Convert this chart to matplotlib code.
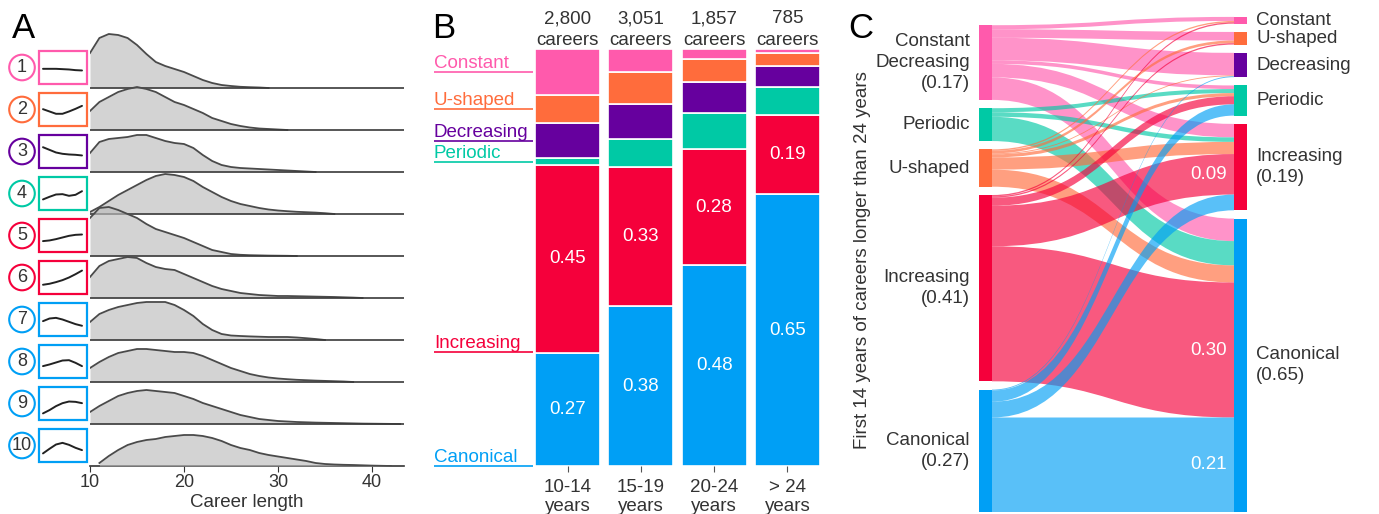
import numpy as np
import matplotlib
matplotlib.use('Agg')
import matplotlib.pyplot as plt
from matplotlib.path import Path
from matplotlib.patches import PathPatch, Rectangle, Circle

plt.rcParams['font.family'] = ['Liberation Sans', 'DejaVu Sans']

W, H = 1379, 514

col = {'Constant': '#ff5aac', 'U-shaped': '#ff6c3c', 'Decreasing': '#66009e',
       'Periodic': '#00c9a5', 'Increasing': '#f5003b', 'Canonical': '#009ff5'}
txt_col = '#333333'

# ---- panel A data: career-length densities per cluster
cluster_class = ['Constant', 'U-shaped', 'Decreasing', 'Periodic', 'Increasing',
                 'Increasing', 'Canonical', 'Canonical', 'Canonical', 'Canonical']
# mini trajectory glyph in each box (0 = box bottom, 1 = box top)
shape_y = [
    [0.46, 0.46, 0.46, 0.45, 0.44, 0.42, 0.41],
    [0.51, 0.44, 0.37, 0.37, 0.44, 0.52, 0.61],
    [0.63, 0.55, 0.47, 0.43, 0.41, 0.40, 0.38],
    [0.32, 0.40, 0.47, 0.48, 0.43, 0.46, 0.57],
    [0.33, 0.35, 0.39, 0.44, 0.49, 0.52, 0.53],
    [0.28, 0.31, 0.36, 0.42, 0.50, 0.60, 0.71],
    [0.45, 0.53, 0.55, 0.50, 0.43, 0.36, 0.31],
    [0.36, 0.41, 0.47, 0.53, 0.54, 0.46, 0.36],
    [0.20, 0.30, 0.42, 0.51, 0.56, 0.55, 0.51],
    [0.26, 0.40, 0.53, 0.58, 0.52, 0.43, 0.36],
]
dens_start = [10, 10, 10, 10, 10, 10, 10, 10, 10, 11]
dens = [
    [35, 50, 54, 53, 50, 43, 34, 26, 22, 19, 16, 12, 8, 5, 3, 2, 1.2, 0.8, 0.5, 0],
    [19, 28, 33, 38, 41, 43, 41, 38, 33, 28, 25, 21, 17, 12, 9, 6, 4, 2.5, 1.5, 1, 0.5, 0],
    [19, 30, 33, 34, 35, 37, 37, 34, 31, 29, 28, 24, 17, 11, 7, 5, 4, 3.5, 3, 2.5, 2, 1.5, 1, 0.5, 0],
    [2, 7, 13, 19, 24, 29, 34, 38, 40, 39, 37, 33, 27, 22, 17, 13, 10, 8, 6, 4.5, 3.5, 2.8, 2.2,
     1.8, 1.4, 0.8, 0],
    [38, 48, 49, 46, 42, 38, 32, 27, 24, 21, 18, 14, 10, 6, 4, 2, 1.2, 0.8, 0.6, 0.4, 0.3, 0.2, 0],
    [21, 32, 37, 39, 41, 40, 35, 31, 29, 28, 24, 20, 16, 12, 9, 7, 5, 4, 3, 2.5, 2, 2, 1.8, 1.6,
     1.4, 1.2, 1, 0.7, 0.4, 0],
    [18, 26, 30, 33, 35, 37, 38, 38, 38, 35, 30, 24, 16, 10, 6, 4.5, 4, 3.6, 3.3, 3, 3, 3, 2.5,
     1.8, 1, 0],
    [14, 20, 25, 29, 31, 33, 33, 32, 31, 30, 30, 29, 26, 22, 18, 14, 11, 8, 6, 4.5, 3.5, 2.8, 2.2,
     1.8, 1.4, 1.1, 0.8, 0.5, 0],
    [12, 18, 23, 28, 31, 33, 34, 33, 32, 31, 28, 25, 21, 18, 15, 12, 9, 7, 5, 4, 3, 2.5, 2, 1.7,
     1.4, 1.2, 1, 0.8, 0.6, 0.4, 0.3, 0.2, 0.1, 0],
    [3, 10, 16, 21, 24, 26, 27, 29, 30, 31, 31, 30, 28, 25, 21, 18, 16, 13, 11, 9.5, 8, 6.5, 5, 3,
     2, 1.5, 1.2, 1, 0.7, 0.4, 0.2, 0],
]

# ---- panel B data
groups = ['10-14\nyears', '15-19\nyears', '20-24\nyears', '> 24\nyears']
n_careers = [2800, 3051, 1857, 785]
classes_b = ['Canonical', 'Increasing', 'Periodic', 'Decreasing', 'U-shaped', 'Constant']
share = {
    'Canonical':  [0.272, 0.383, 0.481, 0.652],
    'Increasing': [0.449, 0.334, 0.279, 0.189],
    'Periodic':   [0.018, 0.068, 0.087, 0.069],
    'Decreasing': [0.083, 0.083, 0.075, 0.050],
    'U-shaped':   [0.067, 0.076, 0.053, 0.030],
    'Constant':   [0.111, 0.056, 0.025, 0.010],
}
labelled_b = ['Canonical', 'Increasing']

# ---- panel C data: first 14 years -> full career (careers > 24 years)
src_names = ['Constant', 'Periodic', 'U-shaped', 'Increasing', 'Canonical']
dst_names = ['Constant', 'U-shaped', 'Decreasing', 'Periodic', 'Increasing', 'Canonical']
flow = np.array([
    [0.009, 0.019, 0.050, 0.008, 0.030, 0.050],
    [0.000, 0.000, 0.000, 0.009, 0.010, 0.054],
    [0.003, 0.006, 0.002, 0.007, 0.027, 0.038],
    [0.003, 0.003, 0.000, 0.018, 0.090, 0.300],
    [0.000, 0.000, 0.002, 0.025, 0.035, 0.210],
])
src_labels = ['Constant\nDecreasing\n(0.17)', 'Periodic', 'U-shaped',
              'Increasing\n(0.41)', 'Canonical\n(0.27)']

fig = plt.figure(figsize=(W / 100, H / 100), dpi=100)

# =================== A
row_px = 42.0
axA = fig.add_axes([90 / W, (H - 466) / H, 314 / W, 446 / H])
axA.set_xlim(10, 10 + 314 / 9.4)
axA.set_ylim(0, 446 / row_px)
for i in range(10):
    base = 9 - i
    x = np.arange(dens_start[i], dens_start[i] + len(dens[i]))
    y = base + np.array(dens[i]) / row_px
    z = 2 + i * 3
    axA.fill_between(x, base, y, color='#bcbcbc', alpha=0.65, lw=0, zorder=z)
    axA.plot(x, y, color='#4a4a4a', lw=1.3, zorder=z + 1)
    if base > 0:
        axA.axhline(base, color='#3a3a3a', lw=1.2, zorder=z + 2)
for s in ['top', 'left', 'right']:
    axA.spines[s].set_visible(False)
axA.spines['bottom'].set_color('#333333')
axA.spines['bottom'].set_linewidth(1.2)
axA.set_yticks([])
axA.set_xticks([10, 20, 30, 40])
axA.tick_params(axis='x', length=4, color='#333333', labelsize=13, labelcolor=txt_col, pad=2)
axA.set_xlabel('Career length', fontsize=13.5, color=txt_col, labelpad=2)

axL = fig.add_axes([0, (H - 466) / H, 90 / W, 446 / H])
axL.set_xlim(0, 90)
axL.set_ylim(0, 446)
axL.axis('off')
for i in range(10):
    base = (9 - i) * row_px
    c = col[cluster_class[i]]
    axL.add_patch(Circle((22, base + 20.5), 12.8, fc='white', ec=c, lw=1.5))
    axL.text(22, base + 20, str(i + 1), ha='center', va='center', fontsize=13, color=txt_col)
    axL.add_patch(Rectangle((39.5, base + 4), 47.5, 33, fc='white', ec=c, lw=1.6))
    sx = np.linspace(43, 82, len(shape_y[i]))
    sy = base + 4 + np.array(shape_y[i]) * 33
    axL.plot(sx, sy, color='#222222', lw=1.4, solid_capstyle='round')

# =================== B
bx0 = 567.5
bstep = 73.3
axB = fig.add_axes([430 / W, (H - 466) / H, 400 / W, 417 / H])
axB.set_xlim((430 - bx0) / bstep, (830 - bx0) / bstep)
axB.set_ylim(0, 1)
xpos = np.arange(len(groups))
bottom = np.zeros(len(groups))
for cl in classes_b:
    v = np.array(share[cl])
    axB.bar(xpos, v, width=65 / bstep, bottom=bottom, color=col[cl],
            edgecolor='white', lw=1.2)
    if cl in labelled_b:
        for k in range(len(groups)):
            axB.text(xpos[k], bottom[k] + v[k] / 2, f'{v[k]:.2f}', ha='center',
                     va='center', color='white', fontsize=13.5)
    bottom += v
for k in range(len(groups)):
    axB.text(xpos[k], 1 + 4 / 417, 'careers', ha='center', va='baseline',
             fontsize=13.5, color=txt_col, clip_on=False)
    axB.text(xpos[k], 1 + 26 / 417, f'{n_careers[k]:,}', ha='center',
             va='baseline', fontsize=13.5, color=txt_col, clip_on=False)
legend_order = ['Constant', 'U-shaped', 'Decreasing', 'Periodic', 'Increasing', 'Canonical']
legend_y = [0.945, 0.856, 0.779, 0.729, 0.273, 0.0]
lx0 = (434 - bx0) / bstep
lx1 = (533 - bx0) / bstep
for cl, ly in zip(legend_order, legend_y):
    axB.plot([lx0, lx1], [ly, ly], color=col[cl], lw=1.2, clip_on=False,
             solid_capstyle='butt')
    axB.text(lx0, ly + 4 / 417, cl, color=col[cl], fontsize=13.5, ha='left',
             va='baseline', clip_on=False)
for s in axB.spines.values():
    s.set_visible(False)
axB.set_yticks([])
axB.set_xticks(xpos)
axB.set_xticklabels(groups)
axB.tick_params(axis='x', length=4, color='#555555', labelsize=13.5,
                labelcolor=txt_col, pad=5)

# =================== C
scale = 450.0
gap = 8.3 / scale
node_w = 13
axC = fig.add_axes([979 / W, (H - 512) / H, 268 / W, 512 / H])
axC.set_xlim(0, 268)
axC.set_ylim(0, 512 / scale)
axC.axis('off')

src_val = flow.sum(axis=1)
dst_val = flow.sum(axis=0)


def node_tops(vals):
    tops = []
    y = 0.0
    for v in vals[::-1]:
        tops.append(y + v)
        y += v + gap
    return tops[::-1]


src_top = node_tops(src_val)
dst_top = node_tops(dst_val)
xl, xr = node_w, 268 - node_w

# where each link enters its target node
in_top = np.zeros_like(flow)
for j in range(len(dst_names)):
    y = dst_top[j]
    for i in range(len(src_names)):
        in_top[i, j] = y
        y -= flow[i, j]

for i in range(len(src_names)):
    y = src_top[i]
    for j in range(len(dst_names)):
        v = flow[i, j]
        if v <= 0:
            continue
        a_t, a_b = y, y - v
        b_t, b_b = in_top[i, j], in_top[i, j] - v
        xm = (xl + xr) / 2
        verts = [(xl, a_t), (xm, a_t), (xm, b_t), (xr, b_t), (xr, b_b),
                 (xm, b_b), (xm, a_b), (xl, a_b), (xl, a_t)]
        codes = [Path.MOVETO, Path.CURVE4, Path.CURVE4, Path.CURVE4, Path.LINETO,
                 Path.CURVE4, Path.CURVE4, Path.CURVE4, Path.CLOSEPOLY]
        axC.add_patch(PathPatch(Path(verts, codes), fc=col[src_names[i]], ec='none',
                                alpha=0.65, zorder=2))
        if v >= 0.09:
            axC.text(xr - 7, (b_t + b_b) / 2, f'{v:.2f}', ha='right', va='center',
                     color='white', fontsize=13.5, zorder=5)
        y -= v

for i, name in enumerate(src_names):
    axC.add_patch(Rectangle((0, src_top[i] - src_val[i]), node_w, src_val[i],
                            fc=col[name], ec='none', zorder=3))
    axC.text(-9, src_top[i] - src_val[i] / 2, src_labels[i], ha='right', va='center',
             fontsize=13.5, color=txt_col, linespacing=1.3, clip_on=False)
for j, name in enumerate(dst_names):
    axC.add_patch(Rectangle((268 - node_w, dst_top[j] - dst_val[j]), node_w, dst_val[j],
                            fc=col[name], ec='none', zorder=3))
    lab = name + (f'\n({dst_val[j]:.2f})' if dst_val[j] > 0.1 else '')
    axC.text(268 + 9, dst_top[j] - dst_val[j] / 2, lab, ha='left', va='center',
             fontsize=13.5, color=txt_col, linespacing=1.3, clip_on=False)

fig.text(862 / W, 1 - 260 / H, 'First 14 years of careers longer than 24 years',
         rotation=90, ha='center', va='center', fontsize=13.5, color=txt_col)

# panel letters
for letter, px in [('A', 12), ('B', 432), ('C', 848)]:
    fig.text(px / W, 1 - 38 / H, letter, fontsize=25, ha='left', va='baseline', color='black')

fig.savefig('out.png', dpi=100)
